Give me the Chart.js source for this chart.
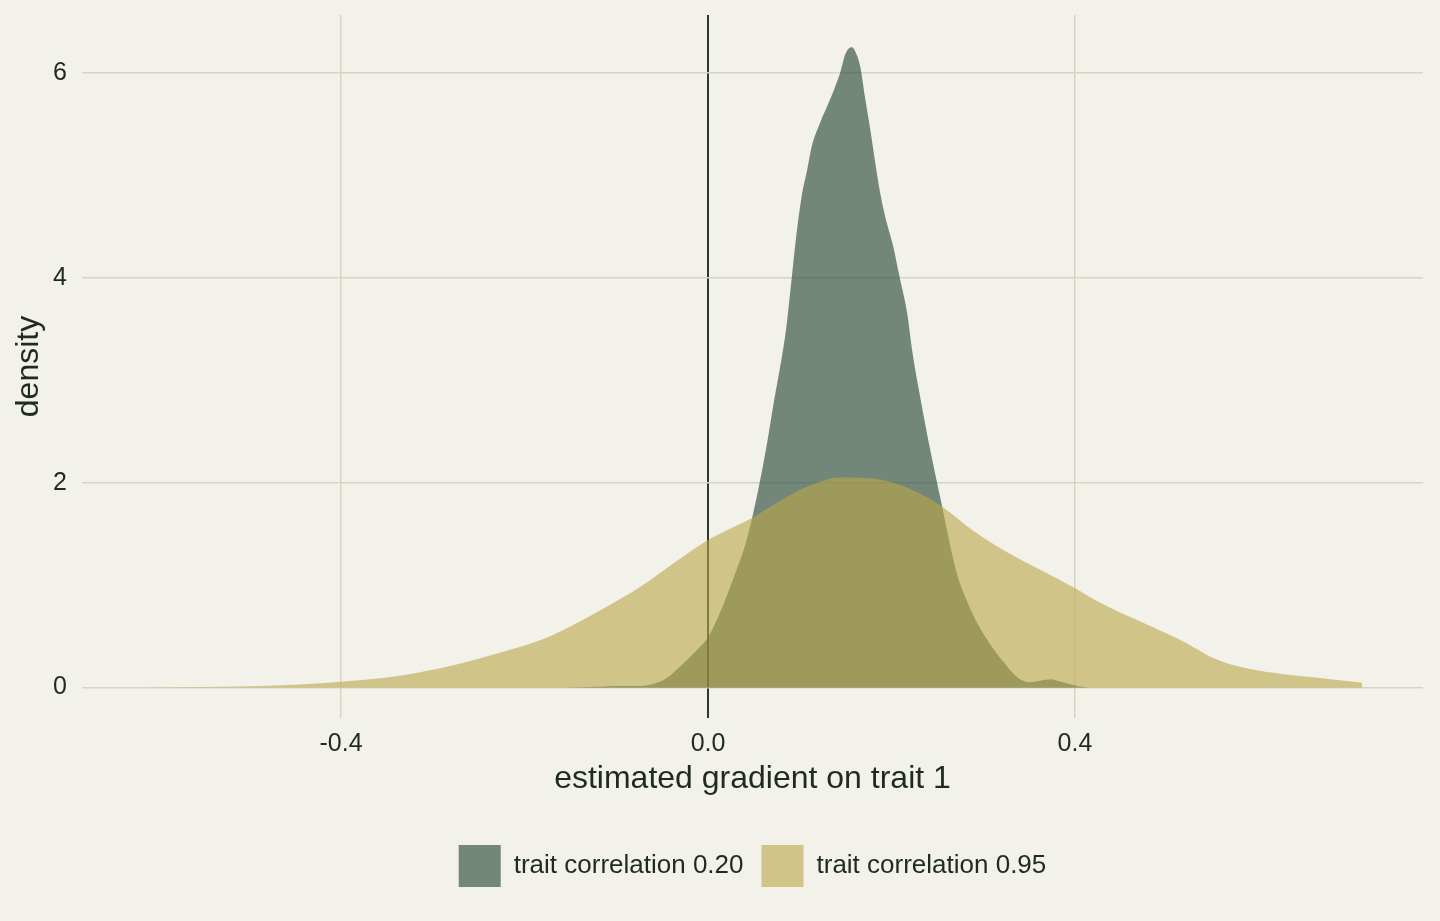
<!DOCTYPE html>
<html>
<head>
<meta charset="utf-8">
<script src="https://cdn.jsdelivr.net/npm/chart.js@4"></script>
<style>
  html, body { margin: 0; padding: 0; background: #f2f1ea; }
  #wrap { width: 1440px; height: 921px; }
</style>
</head>
<body>
<div id="wrap"><canvas id="densityChart"></canvas></div>
<script>
// density estimates
const gradientLow = [-0.161, -0.129, -0.096, -0.074, -0.058, -0.047, -0.031, -0.014, 0.0, 0.013, 0.027, 0.043,
  0.057, 0.065, 0.072, 0.080, 0.085, 0.089, 0.097, 0.102, 0.108, 0.113, 0.122, 0.133, 0.144, 0.150, 0.157,
  0.161, 0.166, 0.171, 0.177, 0.182, 0.187, 0.193, 0.202, 0.209, 0.217, 0.223, 0.232, 0.240, 0.253, 0.271,
  0.282, 0.294, 0.307, 0.322, 0.337, 0.351, 0.373, 0.387, 0.402, 0.416];
const densityLow = [0, 0.005, 0.015, 0.015, 0.04, 0.08, 0.2, 0.35, 0.49, 0.73, 1.05, 1.47,
  2.03, 2.42, 2.8, 3.2, 3.49, 3.81, 4.47, 4.79, 5.05, 5.28, 5.51, 5.74, 6.0, 6.19, 6.25,
  6.2, 6.06, 5.77, 5.44, 5.14, 4.86, 4.6, 4.3, 4.0, 3.66, 3.26, 2.8, 2.42, 1.86, 1.12,
  0.85, 0.62, 0.43, 0.25, 0.10, 0.05, 0.08, 0.05, 0.015, 0];

const gradientHigh = [-0.616, -0.554, -0.499, -0.445, -0.400, -0.368, -0.336, -0.281, -0.227, -0.183, -0.147,
  -0.110, -0.074, -0.038, 0.0, 0.024, 0.049, 0.078, 0.108, 0.144, 0.180, 0.217, 0.253, 0.289, 0.326, 0.362,
  0.400, 0.427, 0.482, 0.518, 0.555, 0.591, 0.627, 0.664, 0.713];
const densityHigh = [0, 0.004, 0.012, 0.03, 0.057, 0.08, 0.115, 0.21, 0.34, 0.46, 0.61,
  0.79, 0.98, 1.21, 1.44, 1.55, 1.66, 1.82, 1.96, 2.05, 2.04, 1.95, 1.78, 1.53, 1.32, 1.15,
  0.97, 0.83, 0.60, 0.45, 0.27, 0.18, 0.13, 0.096, 0.047];

const seriesLabels = ["trait correlation 0.20", "trait correlation 0.95"];
const xTicks = [-0.4, 0, 0.4];
const yTicks = [0, 2, 4, 6];

const textColor = "#1e2a22";
const gridColor = "#d5d5c2";
const zeroColor = "#2c3a2f";

Chart.defaults.font.family = "'Liberation Sans', Arial, sans-serif";
Chart.defaults.color = textColor;

const toPoints = (xs, ys) => xs.map((x, i) => ({ x: x, y: ys[i] }));

// ggplot centres the legend on the panel, not the whole canvas
const centerLegend = {
  id: "centerLegend",
  afterLayout(chart) {
    chart.legend.left = chart.chartArea.left;
    chart.legend.right = chart.chartArea.right;
  }
};

const ctx = document.getElementById("densityChart");
new Chart(ctx, {
  type: "line",
  data: {
    datasets: [
      {
        // index 0 is drawn last, so the 0.95 curve sits on top
        label: seriesLabels[1],
        data: toPoints(gradientHigh, densityHigh),
        backgroundColor: "rgba(187,166,71,0.6)",
        borderColor: "transparent",
        borderWidth: 0,
        pointRadius: 0,
        fill: "origin",
        cubicInterpolationMode: "monotone"
      },
      {
        label: seriesLabels[0],
        data: toPoints(gradientLow, densityLow),
        backgroundColor: "rgba(29,64,47,0.6)",
        borderColor: "transparent",
        borderWidth: 0,
        pointRadius: 0,
        fill: "origin",
        cubicInterpolationMode: "monotone"
      }
    ]
  },
  options: {
    responsive: true,
    maintainAspectRatio: false,
    animation: false,
    layout: { padding: { top: 15, right: 17, bottom: 24, left: 0 } },
    plugins: {
      tooltip: { enabled: false },
      legend: {
        position: "bottom",
        reverse: true,
        labels: {
          boxWidth: 42,
          boxHeight: 42,
          padding: 18,
          color: textColor,
          font: { size: 26 }
        }
      }
    },
    scales: {
      x: {
        type: "linear",
        min: -0.6823,
        max: 0.7793,
        afterBuildTicks: scale => { scale.ticks = xTicks.map(v => ({ value: v })); },
        afterFit: scale => { scale.height = 109; scale.paddingLeft = 0; scale.paddingRight = 0; },
        ticks: {
          callback: v => v.toFixed(1),
          padding: 11,
          maxRotation: 0,
          autoSkip: false,
          color: textColor,
          font: { size: 25 }
        },
        grid: {
          drawTicks: false,
          color: c => (c.tick && c.tick.value === 0 ? zeroColor : gridColor),
          lineWidth: c => (c.tick && c.tick.value === 0 ? 2 : 1.5)
        },
        border: { display: false },
        title: {
          display: true,
          text: "estimated gradient on trait 1",
          color: textColor,
          font: { size: 32 },
          padding: { top: 0, bottom: 29 }
        }
      },
      y: {
        min: -0.298,
        max: 6.566,
        afterBuildTicks: scale => { scale.ticks = yTicks.map(v => ({ value: v })); },
        afterFit: scale => { scale.width = 82; scale.paddingTop = 0; scale.paddingBottom = 0; },
        ticks: {
          callback: v => String(v),
          padding: 15,
          color: textColor,
          font: { size: 25 }
        },
        grid: { drawTicks: false, color: gridColor, lineWidth: 1.5 },
        border: { display: false },
        title: {
          display: true,
          text: "density",
          color: textColor,
          font: { size: 32 },
          padding: { top: 10, bottom: 0 }
        }
      }
    }
  },
  plugins: [centerLegend]
});
</script>
</body>
</html>
